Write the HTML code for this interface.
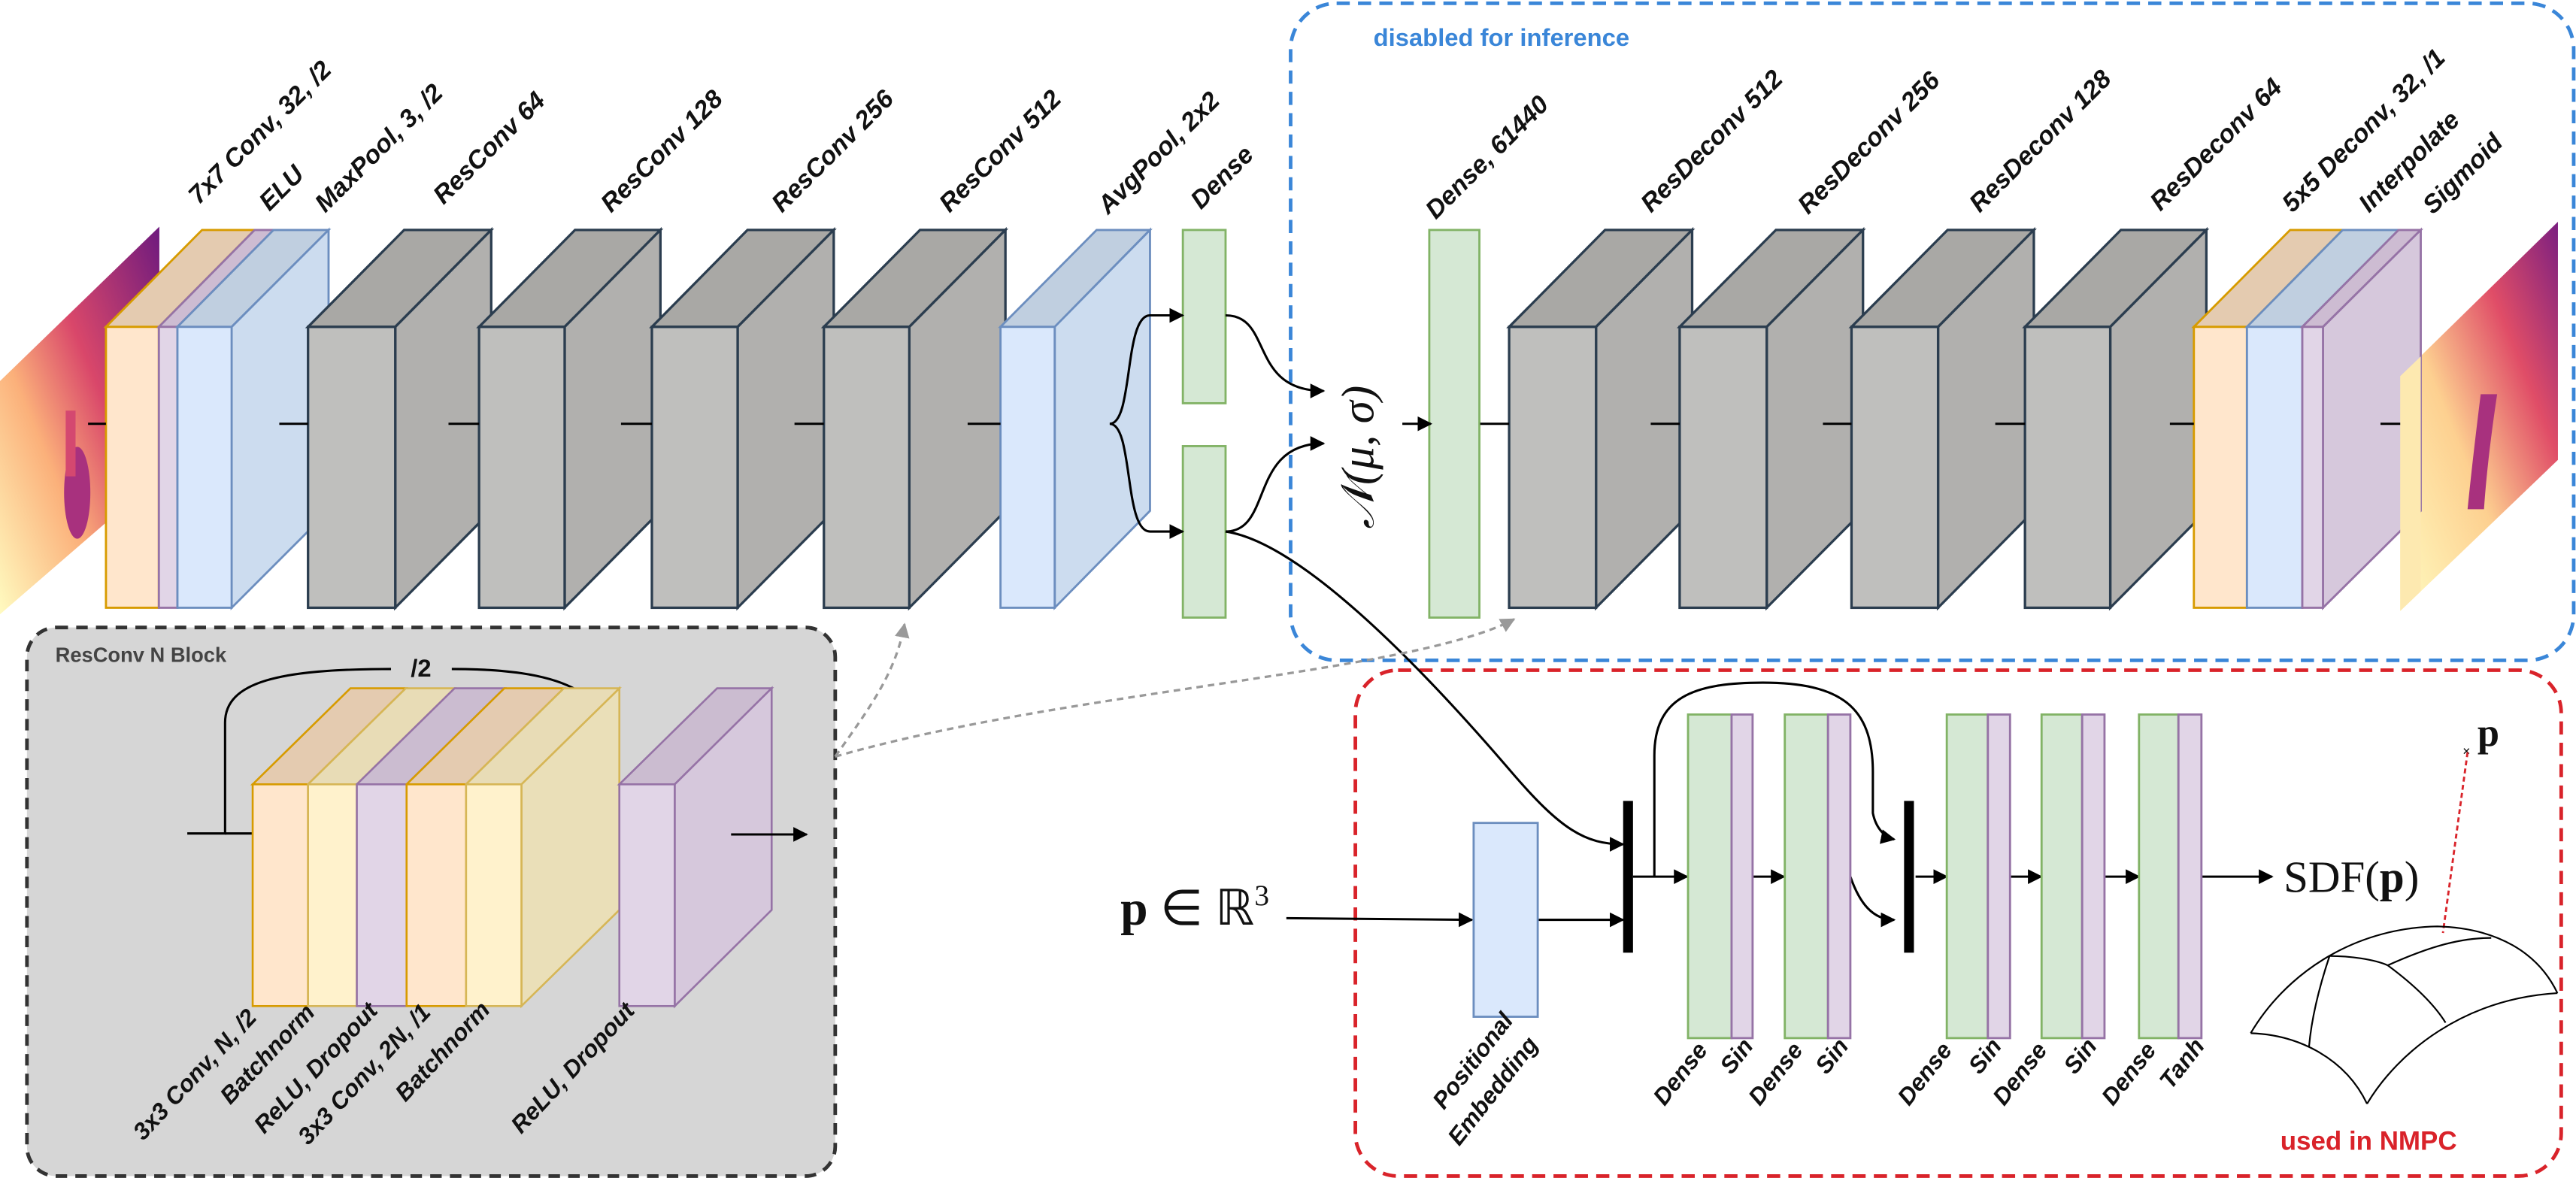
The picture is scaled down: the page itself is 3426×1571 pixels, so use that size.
<!DOCTYPE html>
<html><head><meta charset="utf-8"><style>
html,body{margin:0;padding:0;background:#fff;}
svg{display:block;}
.lb{font-family:"Liberation Sans",sans-serif;font-weight:bold;font-style:italic;font-size:15.5px;fill:#111;}
.ls{font-family:"Liberation Sans",sans-serif;font-weight:bold;font-style:italic;font-size:14.5px;fill:#111;}
.mt{font-family:"Liberation Serif",serif;fill:#111;}
</style></head><body>
<svg width="3426" height="1571" viewBox="0 0 1568 719" preserveAspectRatio="none" xmlns="http://www.w3.org/2000/svg">
<defs>
<marker id="ah2" viewBox="0 0 10 10" refX="9" refY="5" markerWidth="9" markerHeight="9" orient="auto" markerUnits="userSpaceOnUse"><path d="M0,0 L10,5 L0,10 z" fill="#000"/></marker>
<marker id="ag" viewBox="0 0 10 10" refX="9" refY="5" markerWidth="9" markerHeight="9" orient="auto" markerUnits="userSpaceOnUse"><path d="M0,0 L10,5 L0,10 z" fill="#999"/></marker>
<linearGradient id="g1" x1="0" y1="1" x2="1" y2="0"><stop offset="0" stop-color="#fffbc0"/><stop offset="0.35" stop-color="#fbb07a"/><stop offset="0.6" stop-color="#d9476a"/><stop offset="1" stop-color="#6e1a7e"/></linearGradient>
<linearGradient id="g2" x1="0" y1="1" x2="1" y2="0"><stop offset="0" stop-color="#fffbc0"/><stop offset="0.4" stop-color="#fdd090"/><stop offset="0.7" stop-color="#e04d67"/><stop offset="1" stop-color="#7b1f80"/></linearGradient>
</defs>

<rect x="785.6" y="2" width="781" height="400" rx="28" fill="none" stroke="#3a86d8" stroke-width="2.2" stroke-dasharray="8,5"/>
<text x="836" y="28" font-family="Liberation Sans,sans-serif" font-weight="bold" font-size="15" fill="#3a86d8">disabled for inference</text>
<rect x="825" y="408" width="734" height="308" rx="26" fill="none" stroke="#d9232a" stroke-width="2.2" stroke-dasharray="8,5"/>
<text x="1388" y="700" font-family="Liberation Sans,sans-serif" font-weight="bold" font-size="16" fill="#d9232a">used in NMPC</text>

<rect x="16.4" y="382" width="492" height="334" rx="18" fill="#d6d6d6" stroke="#333" stroke-width="2.2" stroke-dasharray="7,5"/>
<text x="33.7" y="403" font-family="Liberation Sans,sans-serif" font-weight="bold" font-size="12.5" fill="#444">ResConv N Block</text>

<polygon points="0,232 97,138 97,290 0,374" fill="url(#g1)"/>
<ellipse cx="47" cy="300" rx="8" ry="28" fill="#a8317e"/>
<rect x="40" y="250" width="6" height="40" fill="#d44870"/>
<polygon points="1461,229 1557,135 1557,280 1461,372" fill="url(#g2)"/>
<path d="M1510,240 q-5,40 -8,70 l10,0 q2,-30 8,-70 z" fill="#a8317e"/>

<g stroke-width="1.3">
<polygon points="64.5,199 123,140 155,140 96.7,199" fill="#e4cbb0" stroke="#d79b00"/>
<rect x="64.5" y="199" width="32.2" height="171" fill="#ffe6cc" stroke="#d79b00"/>
<polygon points="96.7,199 155,140 166.5,140 108,199" fill="#cdbcd2" stroke="#9673a6"/>
<rect x="96.7" y="199" width="11.3" height="171" fill="#e1d5e7" stroke="#9673a6"/>
<polygon points="108,199 166.5,140 200,140 141,199" fill="#c0cfe0" stroke="#6c8ebf"/>
<polygon points="141,199 200,140 200,311 141,370" fill="#ccdcef" stroke="#6c8ebf"/>
<rect x="108" y="199" width="33" height="171" fill="#dae8fc" stroke="#6c8ebf"/>
</g>
<g stroke="#2b3d4f" stroke-width="1.5">
<polygon points="187.5,199 246,140 299,140 240.6,199" fill="#a9a8a5"/>
<polygon points="240.6,199 299,140 299,311 240.6,370" fill="#b1b0ae"/>
<rect x="187.5" y="199" width="53.1" height="171" fill="#bfbfbd"/>
<polygon points="291.6,199 350,140 402,140 343.7,199" fill="#a9a8a5"/>
<polygon points="343.7,199 402,140 402,311 343.7,370" fill="#b1b0ae"/>
<rect x="291.6" y="199" width="52.1" height="171" fill="#bfbfbd"/>
<polygon points="396.8,199 455,140 507.5,140 449,199" fill="#a9a8a5"/>
<polygon points="449,199 507.5,140 507.5,311 449,370" fill="#b1b0ae"/>
<rect x="396.8" y="199" width="52.2" height="171" fill="#bfbfbd"/>
<polygon points="501.5,199 560,140 612,140 553.5,199" fill="#a9a8a5"/>
<polygon points="553.5,199 612,140 612,311 553.5,370" fill="#b1b0ae"/>
<rect x="501.5" y="199" width="52" height="171" fill="#bfbfbd"/>
</g>
<g stroke="#6c8ebf" stroke-width="1.3">
<polygon points="609,199 667.5,140 700,140 642,199" fill="#c0cfe0"/>
<polygon points="642,199 700,140 700,311 642,370" fill="#ccdcef"/>
<rect x="609" y="199" width="33" height="171" fill="#dae8fc"/>
</g>
<g fill="#d5e8d4" stroke="#82b366" stroke-width="1.3">
<rect x="720" y="140" width="26" height="105.5"/>
<rect x="720" y="271.6" width="26" height="104.4"/>
<rect x="870" y="140" width="30.5" height="236"/>
</g>

<g stroke="#2b3d4f" stroke-width="1.5">
<polygon points="918.6,199 977,140 1030,140 971.5,199" fill="#a9a8a5"/>
<polygon points="971.5,199 1030,140 1030,311 971.5,370" fill="#b1b0ae"/>
<rect x="918.6" y="199" width="52.9" height="171" fill="#bfbfbd"/>
<polygon points="1022.4,199 1081,140 1134,140 1075.4,199" fill="#a9a8a5"/>
<polygon points="1075.4,199 1134,140 1134,311 1075.4,370" fill="#b1b0ae"/>
<rect x="1022.4" y="199" width="53" height="171" fill="#bfbfbd"/>
<polygon points="1127,199 1185.5,140 1238,140 1179.7,199" fill="#a9a8a5"/>
<polygon points="1179.7,199 1238,140 1238,311 1179.7,370" fill="#b1b0ae"/>
<rect x="1127" y="199" width="52.7" height="171" fill="#bfbfbd"/>
<polygon points="1232.6,199 1291,140 1343,140 1284.5,199" fill="#a9a8a5"/>
<polygon points="1284.5,199 1343,140 1343,311 1284.5,370" fill="#b1b0ae"/>
<rect x="1232.6" y="199" width="51.9" height="171" fill="#bfbfbd"/>
</g>
<g stroke-width="1.3">
<polygon points="1335.4,199 1394,140 1426,140 1367.7,199" fill="#e4cbb0" stroke="#d79b00"/>
<rect x="1335.4" y="199" width="32.3" height="171" fill="#ffe6cc" stroke="#d79b00"/>
<polygon points="1367.7,199 1426,140 1460,140 1401.4,199" fill="#c0cfe0" stroke="#6c8ebf"/>
<rect x="1367.7" y="199" width="33.7" height="171" fill="#dae8fc" stroke="#6c8ebf"/>
<polygon points="1401.4,199 1460,140 1473.5,140 1414,199" fill="#cdbcd2" stroke="#9673a6"/>
<polygon points="1414,199 1473.5,140 1473.5,311 1414,370" fill="#d6c8dc" stroke="#9673a6"/>
<rect x="1401.4" y="199" width="12.6" height="171" fill="#e1d5e7" stroke="#9673a6"/>
</g>
<polygon points="1461,229 1473.5,217 1473.5,360 1461,372" fill="#fde9b0"/>

<g stroke="#000" stroke-width="1.4">
<line x1="53.6" y1="258" x2="64.5" y2="258"/>
<line x1="170" y1="258" x2="187.5" y2="258"/>
<line x1="273" y1="258" x2="291.6" y2="258"/>
<line x1="378" y1="258" x2="396.8" y2="258"/>
<line x1="483.6" y1="258" x2="501.5" y2="258"/>
<line x1="589" y1="258" x2="609" y2="258"/>
<line x1="901" y1="258" x2="918.6" y2="258"/>
<line x1="1004.8" y1="258" x2="1022.4" y2="258"/>
<line x1="1109.6" y1="258" x2="1127" y2="258"/>
<line x1="1214.5" y1="258" x2="1232.6" y2="258"/>
<line x1="1320.8" y1="258" x2="1335.4" y2="258"/>
<line x1="1449" y1="258" x2="1461" y2="258"/>
</g>
<g fill="none" stroke="#000" stroke-width="1.4">
<path d="M675.5,258 C690,258 684,192 700,192 L720,192" marker-end="url(#ah2)"/>
<path d="M675.5,258 C690,258 684,323.6 700,323.6 L720,323.6" marker-end="url(#ah2)"/>
<path d="M746,192 C775,192 760,238 805.7,238" marker-end="url(#ah2)"/>
<path d="M746,323.6 C775,323.6 760,270 805.7,270" marker-end="url(#ah2)"/>
<path d="M853.6,258 L871,258" marker-end="url(#ah2)"/>
<path d="M746,323.6 C790,330 860,400 920,470 C950,505 965,514 988,514" marker-end="url(#ah2)"/>
</g>
<text transform="translate(836,322) rotate(-90)" class="mt" font-size="28" font-style="italic">𝒩(μ, σ)</text>

<g class="lb">
<text transform="translate(121,125) rotate(-45)">7x7 Conv, 32, /2</text>
<text transform="translate(164,129) rotate(-45)">ELU</text>
<text transform="translate(198,130) rotate(-45)">MaxPool, 3, /2</text>
<text transform="translate(270,125) rotate(-45)">ResConv 64</text>
<text transform="translate(372,130) rotate(-45)">ResConv 128</text>
<text transform="translate(476,130) rotate(-45)">ResConv 256</text>
<text transform="translate(578,130) rotate(-45)">ResConv 512</text>
<text transform="translate(674.5,131) rotate(-45)">AvgPool, 2x2</text>
<text transform="translate(731,128) rotate(-45)">Dense</text>
<text transform="translate(874,134) rotate(-45)">Dense, 61440</text>
<text transform="translate(1005,130) rotate(-45)">ResDeconv 512</text>
<text transform="translate(1100.6,131) rotate(-45)">ResDeconv 256</text>
<text transform="translate(1205,130) rotate(-45)">ResDeconv 128</text>
<text transform="translate(1315,129) rotate(-45)">ResDeconv 64</text>
<text transform="translate(1395.4,130) rotate(-45)">5x5 Deconv, 32, /1</text>
<text transform="translate(1442,130) rotate(-45)">Interpolate</text>
<text transform="translate(1481,131) rotate(-45)">Sigmoid</text>
</g>

<path d="M114,507.4 L137,507.4 L137,440 C137,415 170,407.3 238,407.3" fill="none" stroke="#000" stroke-width="1.4"/>
<path d="M275,407.3 C340,407.3 373,420 373,460 L373,507.4 M357,507.4 L377,507.4" fill="none" stroke="#000" stroke-width="1.4"/>
<line x1="137" y1="507.4" x2="153.8" y2="507.4" stroke="#000" stroke-width="1.4"/>
<text x="250" y="412" font-family="Liberation Sans,sans-serif" font-weight="bold" font-size="15" fill="#111">/2</text>
<g stroke-width="1.2">
<polygon points="317.4,477.5 377,419 377,554 317.4,612.5" fill="#eadfb8" stroke="#d6b656"/>
<polygon points="153.8,477.5 213.3,419 247,419 187.5,477.5" fill="#e4cbb0" stroke="#d79b00"/>
<polygon points="187.5,477.5 247,419 276.7,419 217.2,477.5" fill="#e8dcb6" stroke="#d6b656"/>
<polygon points="217.2,477.5 276.7,419 307,419 247.5,477.5" fill="#cbbcd0" stroke="#9673a6"/>
<polygon points="247.5,477.5 307,419 343.2,419 283.7,477.5" fill="#e4cbb0" stroke="#d79b00"/>
<polygon points="283.7,477.5 343.2,419 377,419 317.4,477.5" fill="#e8dcb6" stroke="#d6b656"/>
<rect x="153.8" y="477.5" width="33.7" height="135" fill="#ffe6cc" stroke="#d79b00"/>
<rect x="187.5" y="477.5" width="29.7" height="135" fill="#fff2cc" stroke="#d6b656"/>
<rect x="217.2" y="477.5" width="30.3" height="135" fill="#e1d5e7" stroke="#9673a6"/>
<rect x="247.5" y="477.5" width="36.2" height="135" fill="#ffe6cc" stroke="#d79b00"/>
<rect x="283.7" y="477.5" width="33.7" height="135" fill="#fff2cc" stroke="#d6b656"/>
<polygon points="377,477.5 436.5,419 469.7,419 410.7,477.5" fill="#cbbcd0" stroke="#9673a6"/>
<polygon points="410.7,477.5 469.7,419 469.7,554 410.7,612.5" fill="#d6c8dc" stroke="#9673a6"/>
<rect x="377" y="477.5" width="33.7" height="135" fill="#e1d5e7" stroke="#9673a6"/>
</g>
<line x1="445" y1="508" x2="491" y2="508" stroke="#000" stroke-width="1.4" marker-end="url(#ah2)"/>
<g class="ls" text-anchor="end">
<text transform="translate(157,620) rotate(-47)">3x3 Conv, N, /2</text>
<text transform="translate(192.4,617) rotate(-47)">Batchnorm</text>
<text transform="translate(230.6,616) rotate(-47)">ReLU, Dropout</text>
<text transform="translate(262.9,617) rotate(-47)">3x3 Conv, 2N, /1</text>
<text transform="translate(299,615.4) rotate(-47)">Batchnorm</text>
<text transform="translate(387,616) rotate(-47)">ReLU, Dropout</text>
</g>

<path d="M508.4,460.6 C530,430 545,410 550.6,380" fill="none" stroke="#999" stroke-width="1.5" stroke-dasharray="4,3" marker-end="url(#ag)"/>
<path d="M508.4,460.6 C650,420 860,410 921.6,377" fill="none" stroke="#999" stroke-width="1.5" stroke-dasharray="4,3" marker-end="url(#ag)"/>

<text x="682" y="563" class="mt" font-size="30"><tspan font-weight="bold">p</tspan> ∈ ℝ<tspan font-size="18" dy="-12">3</tspan></text>
<g fill="none" stroke="#000" stroke-width="1.4">
<path d="M783,559 L896,560" marker-end="url(#ah2)"/>
<path d="M936,560 L988,560" marker-end="url(#ah2)"/>
<path d="M994,533.7 L1027,533.7" marker-end="url(#ah2)"/>
<path d="M1007,533.7 L1007,460 C1007,425 1030,415.6 1073,415.6 C1120,415.6 1140,430 1140,470 L1140,495 C1142,505 1148,510 1153,511" marker-end="url(#ah2)"/>
<path d="M1066.8,533.7 L1086,533.7" marker-end="url(#ah2)"/>
<path d="M1126.3,533.7 C1132,550 1140,560 1153,560" marker-end="url(#ah2)"/>
<path d="M1166,533.7 L1185,533.7" marker-end="url(#ah2)"/>
<path d="M1223.5,533.7 L1242.5,533.7" marker-end="url(#ah2)"/>
<path d="M1281,533.7 L1302,533.7" marker-end="url(#ah2)"/>
<path d="M1340,533.7 L1383,533.7" marker-end="url(#ah2)"/>
</g>
<rect x="897" y="501" width="39" height="118" fill="#dae8fc" stroke="#6c8ebf" stroke-width="1.3"/>
<rect x="988" y="487.6" width="6" height="92.4" fill="#000"/>
<rect x="1159" y="487.6" width="6" height="92.4" fill="#000"/>
<g stroke-width="1.3">
<rect x="1027.5" y="435" width="26.5" height="197" fill="#d5e8d4" stroke="#82b366"/>
<rect x="1054" y="435" width="12.8" height="197" fill="#e1d5e7" stroke="#9673a6"/>
<rect x="1086.4" y="435" width="26.3" height="197" fill="#d5e8d4" stroke="#82b366"/>
<rect x="1112.7" y="435" width="13.6" height="197" fill="#e1d5e7" stroke="#9673a6"/>
<rect x="1185" y="435" width="25" height="197" fill="#d5e8d4" stroke="#82b366"/>
<rect x="1210" y="435" width="13.5" height="197" fill="#e1d5e7" stroke="#9673a6"/>
<rect x="1242.7" y="435" width="24.7" height="197" fill="#d5e8d4" stroke="#82b366"/>
<rect x="1267.4" y="435" width="13.6" height="197" fill="#e1d5e7" stroke="#9673a6"/>
<rect x="1302" y="435" width="24" height="197" fill="#d5e8d4" stroke="#82b366"/>
<rect x="1326" y="435" width="14" height="197" fill="#e1d5e7" stroke="#9673a6"/>
</g>
<g class="ls" text-anchor="end">
<text transform="translate(921.6,621.5) rotate(-52)">Positional</text>
<text transform="translate(936.8,636) rotate(-52)">Embedding</text>
<text transform="translate(1040,639.5) rotate(-52)">Dense</text>
<text transform="translate(1067.8,637) rotate(-52)">Sin</text>
<text transform="translate(1098,639.5) rotate(-52)">Dense</text>
<text transform="translate(1125.8,637) rotate(-52)">Sin</text>
<text transform="translate(1188.8,639.5) rotate(-52)">Dense</text>
<text transform="translate(1219,637) rotate(-52)">Sin</text>
<text transform="translate(1246.7,639.5) rotate(-52)">Dense</text>
<text transform="translate(1277,637) rotate(-52)">Sin</text>
<text transform="translate(1313,639.5) rotate(-52)">Dense</text>
<text transform="translate(1342.5,637) rotate(-52)">Tanh</text>
</g>
<text x="1390" y="543" class="mt" font-size="27">SDF(<tspan font-weight="bold">p</tspan>)</text>
<text x="1508" y="454" class="mt" font-size="24" font-weight="bold">p</text>
<text x="1499" y="460" font-family="Liberation Sans,sans-serif" font-size="8">×</text>
<line x1="1502" y1="458" x2="1487" y2="568" stroke="#d9232a" stroke-width="1.3" stroke-dasharray="3,2"/>
<g fill="none" stroke="#000" stroke-width="1">
<path d="M1370,629 C1390,595 1430,565 1483.6,564 C1520,565 1545,580 1556.7,604.6"/>
<path d="M1556.7,604.6 C1500,608 1460,640 1440.8,672"/>
<path d="M1370,629 C1400,630 1428,645 1440.8,672"/>
<path d="M1418,582 C1430,582 1445,584 1453.4,587.7 C1475,578 1495,571 1516.4,571"/>
<path d="M1453.4,587.7 C1470,600 1482,612 1488.6,622.6"/>
<path d="M1418,582 C1412,600 1407,620 1405.5,637.2"/>
</g>
</svg>
</body></html>
